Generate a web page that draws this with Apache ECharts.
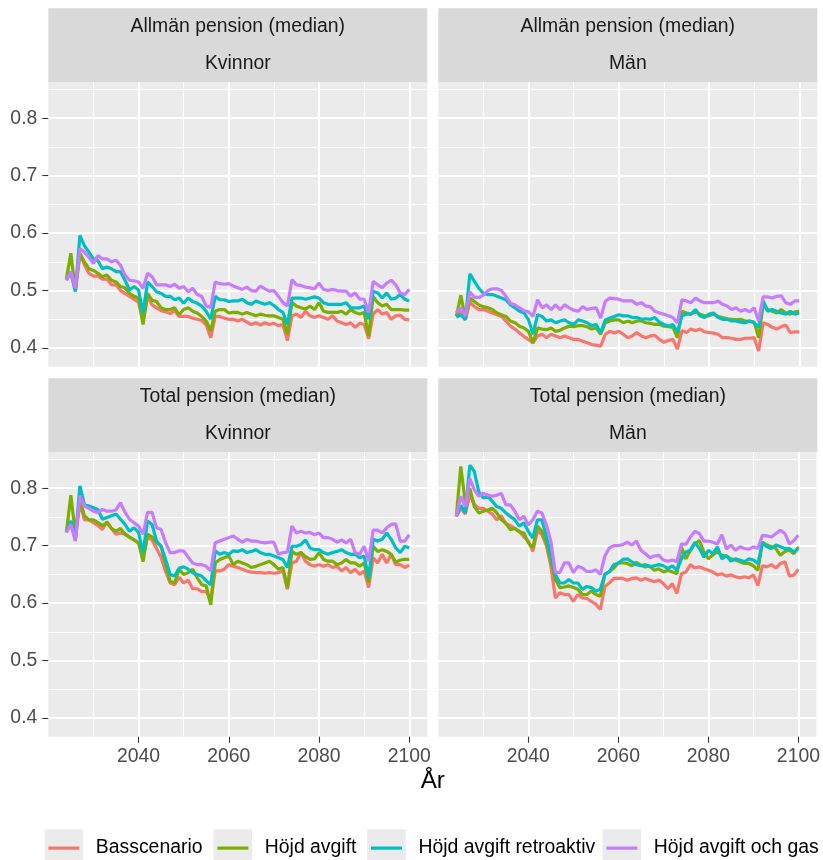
<!DOCTYPE html>
<html><head><meta charset="utf-8">
<script src="https://cdn.jsdelivr.net/npm/echarts@6/dist/echarts.min.js"></script>
<style>html,body{margin:0;padding:0;background:#fff;}#chart{width:823px;height:860px;}</style>
</head><body><div id="chart"></div>
<script>
const years = [2024,2025,2026,2027,2028,2029,2030,2031,2032,2033,2034,2035,2036,2037,2038,2039,2040,2041,2042,2043,2044,2045,2046,2047,2048,2049,2050,2051,2052,2053,2054,2055,2056,2057,2058,2059,2060,2061,2062,2063,2064,2065,2066,2067,2068,2069,2070,2071,2072,2073,2074,2075,2076,2077,2078,2079,2080,2081,2082,2083,2084,2085,2086,2087,2088,2089,2090,2091,2092,2093,2094,2095,2096,2097,2098,2099,2100];
const seriesNames = ['Basscenario','Höjd avgift','Höjd avgift retroaktiv','Höjd avgift och gas'];
const seriesColors = ['#F8766D','#7CAE00','#00BFC4','#C77CFF'];
const stripTitles = ['Allmän pension (median)','Allmän pension (median)','Total pension (median)','Total pension (median)'];
const stripGroups = ['Kvinnor','Män','Kvinnor','Män'];
const xTickValues = [2040,2060,2080,2100];
const yTickValues = [0.4,0.5,0.6,0.7,0.8];
const xTitle = 'År';

// Allmän pension, Kvinnor
const akBas = [0.520,0.530,0.500,0.565,0.545,0.530,0.525,0.525,0.520,0.520,0.510,0.510,0.500,0.495,0.490,0.485,0.480,0.445,0.490,0.475,0.470,0.465,0.463,0.460,0.465,0.455,0.455,0.455,0.452,0.450,0.448,0.440,0.418,0.455,0.455,0.452,0.450,0.450,0.447,0.450,0.445,0.441,0.444,0.440,0.444,0.441,0.443,0.439,0.441,0.413,0.456,0.459,0.453,0.464,0.456,0.453,0.456,0.453,0.450,0.456,0.447,0.444,0.441,0.444,0.436,0.443,0.441,0.416,0.459,0.467,0.459,0.462,0.450,0.456,0.457,0.450,0.449];
const akHojd = [0.520,0.565,0.500,0.564,0.550,0.538,0.535,0.530,0.524,0.527,0.518,0.515,0.507,0.505,0.495,0.490,0.487,0.441,0.495,0.483,0.481,0.470,0.467,0.467,0.470,0.458,0.467,0.470,0.464,0.461,0.455,0.447,0.430,0.464,0.467,0.467,0.461,0.462,0.462,0.459,0.462,0.459,0.456,0.459,0.457,0.456,0.456,0.453,0.450,0.424,0.479,0.473,0.470,0.468,0.473,0.467,0.479,0.464,0.462,0.462,0.462,0.464,0.459,0.467,0.462,0.459,0.462,0.421,0.490,0.479,0.473,0.476,0.467,0.467,0.467,0.466,0.466];
const akRetro = [0.518,0.533,0.498,0.596,0.578,0.567,0.555,0.552,0.538,0.541,0.538,0.533,0.533,0.518,0.501,0.507,0.501,0.461,0.515,0.507,0.498,0.495,0.490,0.490,0.484,0.487,0.478,0.487,0.481,0.478,0.473,0.464,0.450,0.490,0.484,0.484,0.481,0.482,0.482,0.485,0.479,0.476,0.482,0.479,0.476,0.479,0.474,0.467,0.462,0.441,0.487,0.487,0.487,0.485,0.487,0.489,0.487,0.479,0.476,0.476,0.476,0.476,0.479,0.470,0.470,0.470,0.473,0.450,0.499,0.496,0.487,0.496,0.485,0.487,0.493,0.485,0.482];
const akGas = [0.518,0.533,0.504,0.573,0.567,0.558,0.547,0.561,0.555,0.555,0.550,0.553,0.544,0.527,0.518,0.517,0.515,0.504,0.530,0.524,0.510,0.510,0.510,0.507,0.511,0.504,0.507,0.498,0.504,0.493,0.490,0.473,0.471,0.515,0.512,0.511,0.512,0.508,0.505,0.502,0.506,0.500,0.499,0.508,0.503,0.499,0.500,0.490,0.479,0.473,0.519,0.510,0.509,0.506,0.505,0.503,0.513,0.502,0.500,0.502,0.500,0.499,0.499,0.490,0.496,0.485,0.485,0.462,0.516,0.510,0.505,0.513,0.518,0.510,0.496,0.493,0.502];

// Allmän pension, Män
const amBas = [0.455,0.465,0.450,0.480,0.472,0.467,0.467,0.464,0.461,0.458,0.455,0.447,0.438,0.433,0.426,0.420,0.415,0.409,0.421,0.424,0.418,0.424,0.421,0.418,0.421,0.418,0.415,0.415,0.412,0.409,0.406,0.405,0.403,0.424,0.429,0.426,0.429,0.424,0.418,0.421,0.427,0.421,0.418,0.421,0.422,0.415,0.410,0.413,0.415,0.398,0.430,0.427,0.433,0.430,0.433,0.428,0.427,0.426,0.424,0.418,0.418,0.417,0.415,0.415,0.417,0.417,0.418,0.395,0.444,0.441,0.436,0.433,0.437,0.440,0.427,0.428,0.428];
const amHojd = [0.455,0.492,0.450,0.487,0.481,0.475,0.472,0.470,0.467,0.461,0.458,0.455,0.447,0.444,0.438,0.435,0.429,0.409,0.435,0.433,0.432,0.435,0.429,0.431,0.435,0.438,0.437,0.439,0.439,0.437,0.433,0.435,0.424,0.444,0.447,0.449,0.449,0.444,0.447,0.444,0.447,0.447,0.444,0.443,0.441,0.441,0.438,0.437,0.436,0.418,0.464,0.461,0.459,0.463,0.459,0.456,0.456,0.459,0.455,0.453,0.451,0.450,0.449,0.450,0.447,0.447,0.445,0.418,0.476,0.467,0.464,0.461,0.467,0.461,0.459,0.463,0.464];
const amRetro = [0.454,0.458,0.449,0.529,0.516,0.504,0.495,0.493,0.493,0.490,0.487,0.484,0.475,0.470,0.464,0.461,0.449,0.424,0.458,0.455,0.447,0.449,0.444,0.447,0.449,0.444,0.441,0.449,0.447,0.444,0.439,0.441,0.426,0.449,0.452,0.455,0.458,0.456,0.456,0.453,0.453,0.450,0.451,0.450,0.453,0.445,0.441,0.438,0.441,0.428,0.456,0.459,0.459,0.467,0.456,0.453,0.459,0.461,0.453,0.450,0.450,0.447,0.447,0.445,0.444,0.447,0.444,0.436,0.482,0.464,0.467,0.464,0.461,0.459,0.464,0.459,0.461];
const amGas = [0.462,0.470,0.455,0.498,0.488,0.488,0.492,0.500,0.503,0.503,0.500,0.490,0.478,0.475,0.470,0.465,0.463,0.455,0.484,0.470,0.475,0.467,0.475,0.467,0.475,0.470,0.466,0.464,0.472,0.467,0.469,0.470,0.452,0.481,0.487,0.486,0.485,0.482,0.482,0.482,0.476,0.479,0.473,0.472,0.464,0.461,0.459,0.456,0.453,0.444,0.484,0.482,0.479,0.487,0.482,0.479,0.479,0.479,0.482,0.476,0.473,0.467,0.470,0.464,0.467,0.463,0.470,0.447,0.489,0.489,0.487,0.490,0.491,0.479,0.476,0.482,0.482];

// Total pension, Kvinnor
const tkBas = [0.723,0.740,0.710,0.775,0.745,0.745,0.740,0.735,0.728,0.742,0.730,0.720,0.722,0.720,0.715,0.710,0.705,0.680,0.715,0.710,0.695,0.680,0.655,0.635,0.632,0.645,0.635,0.640,0.625,0.625,0.620,0.620,0.605,0.656,0.656,0.659,0.667,0.664,0.662,0.659,0.656,0.654,0.653,0.653,0.652,0.653,0.652,0.653,0.656,0.624,0.670,0.673,0.688,0.673,0.667,0.664,0.667,0.664,0.667,0.662,0.664,0.656,0.662,0.653,0.659,0.650,0.656,0.627,0.679,0.670,0.685,0.670,0.685,0.667,0.667,0.662,0.666];
const tkHojd = [0.723,0.788,0.720,0.780,0.752,0.745,0.745,0.740,0.735,0.740,0.730,0.725,0.730,0.720,0.715,0.710,0.705,0.672,0.720,0.715,0.705,0.699,0.667,0.638,0.635,0.659,0.650,0.653,0.659,0.644,0.632,0.630,0.597,0.670,0.676,0.679,0.682,0.667,0.673,0.670,0.667,0.662,0.664,0.667,0.670,0.673,0.667,0.659,0.662,0.627,0.690,0.685,0.688,0.681,0.676,0.677,0.688,0.676,0.673,0.673,0.667,0.670,0.676,0.670,0.670,0.664,0.670,0.636,0.699,0.690,0.693,0.690,0.685,0.671,0.675,0.676,0.676];
const tkRetro = [0.723,0.743,0.711,0.804,0.772,0.769,0.766,0.763,0.746,0.749,0.752,0.755,0.746,0.737,0.725,0.731,0.723,0.688,0.743,0.737,0.708,0.699,0.676,0.650,0.647,0.661,0.663,0.659,0.653,0.650,0.647,0.639,0.632,0.691,0.685,0.688,0.685,0.691,0.690,0.693,0.688,0.690,0.693,0.688,0.685,0.685,0.682,0.679,0.676,0.662,0.699,0.699,0.702,0.710,0.696,0.693,0.693,0.688,0.685,0.688,0.690,0.693,0.688,0.685,0.685,0.679,0.682,0.644,0.711,0.708,0.711,0.722,0.711,0.696,0.688,0.699,0.696];
const tkGas = [0.723,0.737,0.708,0.787,0.769,0.765,0.760,0.758,0.763,0.760,0.760,0.762,0.775,0.758,0.746,0.740,0.734,0.720,0.758,0.758,0.731,0.728,0.705,0.688,0.688,0.691,0.691,0.680,0.670,0.667,0.667,0.664,0.656,0.705,0.708,0.711,0.714,0.717,0.711,0.706,0.711,0.708,0.708,0.706,0.705,0.706,0.706,0.685,0.688,0.689,0.734,0.722,0.725,0.722,0.723,0.719,0.722,0.714,0.714,0.711,0.706,0.710,0.705,0.711,0.688,0.685,0.699,0.673,0.727,0.727,0.722,0.731,0.737,0.738,0.708,0.708,0.719];

// Total pension, Män
const tmBas = [0.751,0.765,0.755,0.790,0.772,0.765,0.765,0.760,0.755,0.745,0.752,0.738,0.735,0.730,0.725,0.715,0.708,0.690,0.725,0.720,0.700,0.665,0.609,0.618,0.615,0.615,0.603,0.615,0.609,0.608,0.603,0.598,0.589,0.629,0.635,0.643,0.643,0.643,0.640,0.643,0.644,0.640,0.643,0.640,0.637,0.640,0.634,0.625,0.634,0.617,0.651,0.654,0.667,0.661,0.663,0.660,0.657,0.654,0.649,0.651,0.647,0.649,0.646,0.644,0.646,0.644,0.649,0.631,0.665,0.663,0.667,0.661,0.669,0.672,0.647,0.649,0.659];
const tmHojd = [0.751,0.838,0.775,0.800,0.768,0.757,0.760,0.762,0.765,0.757,0.745,0.739,0.728,0.730,0.724,0.722,0.705,0.696,0.734,0.725,0.705,0.673,0.641,0.627,0.628,0.630,0.627,0.624,0.615,0.615,0.621,0.615,0.612,0.650,0.655,0.661,0.670,0.670,0.669,0.665,0.671,0.666,0.663,0.665,0.657,0.660,0.654,0.657,0.654,0.651,0.698,0.677,0.692,0.703,0.709,0.689,0.677,0.684,0.689,0.683,0.682,0.677,0.675,0.672,0.669,0.669,0.665,0.657,0.706,0.701,0.698,0.695,0.683,0.690,0.692,0.686,0.698];
const tmRetro = [0.751,0.770,0.757,0.840,0.829,0.794,0.783,0.786,0.777,0.768,0.765,0.757,0.751,0.745,0.734,0.740,0.725,0.713,0.745,0.745,0.716,0.684,0.650,0.635,0.635,0.641,0.635,0.635,0.624,0.629,0.627,0.621,0.624,0.650,0.655,0.667,0.670,0.676,0.677,0.672,0.667,0.665,0.667,0.663,0.665,0.667,0.665,0.660,0.665,0.657,0.677,0.689,0.692,0.706,0.695,0.680,0.692,0.686,0.698,0.677,0.683,0.673,0.677,0.675,0.672,0.677,0.675,0.669,0.705,0.698,0.695,0.701,0.698,0.695,0.695,0.689,0.695];
const tmGas = [0.751,0.786,0.768,0.817,0.797,0.786,0.791,0.788,0.786,0.788,0.791,0.771,0.771,0.760,0.745,0.751,0.736,0.745,0.760,0.757,0.736,0.708,0.653,0.653,0.670,0.670,0.653,0.664,0.661,0.655,0.655,0.658,0.650,0.682,0.696,0.700,0.700,0.702,0.706,0.701,0.708,0.692,0.686,0.679,0.682,0.683,0.675,0.673,0.675,0.672,0.703,0.702,0.715,0.725,0.721,0.708,0.708,0.706,0.703,0.719,0.694,0.701,0.692,0.698,0.695,0.694,0.698,0.695,0.718,0.717,0.715,0.721,0.727,0.721,0.703,0.709,0.718];

const panelData = [
  [akBas, akHojd, akRetro, akGas],
  [amBas, amHojd, amRetro, amGas],
  [tkBas, tkHojd, tkRetro, tkGas],
  [tmBas, tmHojd, tmRetro, tmGas]
];

const FONT = "'Liberation Sans', Arial, Helvetica, sans-serif";
const PW = 379, PH = 284.4;
const panelLeft = [48.3, 438.3, 48.3, 438.3];
const panelTop = [82.3, 82.3, 452.3, 452.3];
const stripH = 74;

const grids = [], xAxes = [], yAxes = [], series = [], graphics = [];
for (let p = 0; p < 4; p++) {
  const showX = p >= 2, showY = p % 2 === 0;
  grids.push({left: panelLeft[p], top: panelTop[p], width: PW, height: PH, show: true,
    backgroundColor: '#EBEBEB', borderWidth: 0, containLabel: false});
  xAxes.push({gridIndex: p, type: 'value', min: 2020, max: 2104, interval: 20,
    axisLine: {show: false},
    axisTick: {show: showX, length: 6, customValues: xTickValues, lineStyle: {color: '#333333', width: 1.1}},
    axisLabel: {show: showX, customValues: xTickValues, color: '#4D4D4D', fontSize: 19.4, fontFamily: FONT, margin: 10,
      formatter: v => String(Math.round(v))},
    splitLine: {show: true, lineStyle: {color: '#FFFFFF', width: 2}},
    minorTick: {show: false, splitNumber: 2},
    minorSplitLine: {show: true, lineStyle: {color: '#FFFFFF', width: 1}}
  });
  yAxes.push({gridIndex: p, type: 'value', min: 0.3675, max: 0.8625,
    axisLine: {show: false},
    axisTick: {show: showY, length: 6, customValues: yTickValues, lineStyle: {color: '#333333', width: 1.1}},
    axisLabel: {show: showY, customValues: yTickValues, color: '#4D4D4D', fontSize: 19.4, fontFamily: FONT, margin: 11,
      formatter: v => Number(v).toFixed(1)},
    splitLine: {show: true, lineStyle: {color: '#FFFFFF', width: 2}},
    minorTick: {show: false, splitNumber: 2},
    minorSplitLine: {show: true, lineStyle: {color: '#FFFFFF', width: 1}}
  });
  for (let s = 0; s < 4; s++) {
    series.push({type: 'line', name: seriesNames[s], xAxisIndex: p, yAxisIndex: p,
      data: years.map((y, i) => [y, panelData[p][s][i]]),
      showSymbol: false, symbol: 'none', color: seriesColors[s],
      lineStyle: {color: seriesColors[s], width: 3.2}, z: 2 + s
    });
  }
  const st = panelTop[p] - stripH;
  const cx = panelLeft[p] + PW / 2;
  graphics.push({type: 'rect', shape: {x: panelLeft[p], y: st, width: PW, height: stripH}, style: {fill: '#D9D9D9'}, silent: true});
  graphics.push({type: 'text', x: cx, y: st + 18.5, silent: true,
    style: {text: stripTitles[p], fontSize: 19.4, fontFamily: FONT, fill: '#1A1A1A', align: 'center', verticalAlign: 'middle'}});
  graphics.push({type: 'text', x: cx, y: st + 55.5, silent: true,
    style: {text: stripGroups[p], fontSize: 19.4, fontFamily: FONT, fill: '#1A1A1A', align: 'center', verticalAlign: 'middle'}});
}
graphics.push({type: 'text', x: 432.8, y: 781.7, silent: true,
  style: {text: xTitle, fontSize: 24.2, fontFamily: FONT, fill: '#000000', align: 'center', verticalAlign: 'middle'}});

const keyLeft = [44.6, 213.6, 367.2, 602.6];
const legends = [];
for (let s = 0; s < 4; s++) {
  graphics.push({type: 'rect', shape: {x: keyLeft[s], y: 829.3, width: 38.5, height: 38.5}, style: {fill: '#EBEBEB'}, silent: true, z: -1});
  legends.push({data: [seriesNames[s]], left: keyLeft[s] + 3.8, top: 838.6, padding: 0, icon: 'rect',
    itemWidth: 31, itemHeight: 3.2, itemGap: 0, selectedMode: false,
    textStyle: {fontSize: 19.4, fontFamily: FONT, color: '#000000', padding: [0, 0, 0, 11.4]}});
}

const chart = echarts.init(document.getElementById('chart'), null, {renderer: 'canvas'});
chart.setOption({
  animation: false,
  backgroundColor: '#FFFFFF',
  grid: grids, xAxis: xAxes, yAxis: yAxes, series: series,
  legend: legends, graphic: graphics
});
</script></body></html>
